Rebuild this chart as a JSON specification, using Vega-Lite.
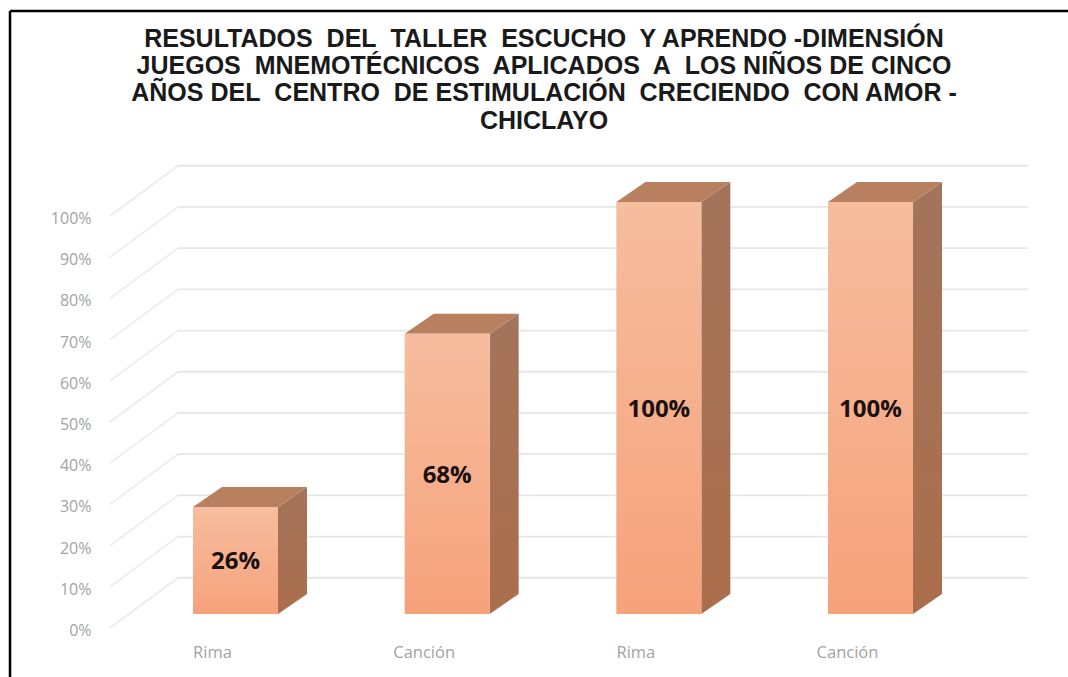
{
"$schema":"https://vega.github.io/schema/vega-lite/v6.json",
"autosize":{"type":"none"},
"padding":{"left":10,"top":11,"right":0,"bottom":0},
"width":1058,"height":666,
"background":"#ffffff",
"config":{"view":{"stroke":null},"font":"Open Sans"},
"title":{"text":["RESULTADOS\u00a0 DEL\u00a0 TALLER\u00a0 ESCUCHO\u00a0 Y APRENDO -DIMENSIÓN","JUEGOS\u00a0 MNEMOTÉCNICOS\u00a0 APLICADOS\u00a0 A\u00a0 LOS NIÑOS DE CINCO","AÑOS DEL\u00a0 CENTRO\u00a0 DE ESTIMULACIÓN\u00a0 CRECIENDO\u00a0 CON AMOR -","CHICLAYO"],"anchor":"middle","frame":"group","font":"Liberation Sans","fontWeight":"bold","fontSize":25,"lineHeight":27.3,"color":"#1a1a1a","dx":5,"dy":148,"baseline":"alphabetic"},
"datasets":{
"barras":[{"n":1,"categoria":"Rima","valor":26},{"n":2,"categoria":"Canción","valor":68},{"n":3,"categoria":"Rima","valor":100},{"n":4,"categoria":"Canción","valor":100}],
"rejilla":[{"valor":0},{"valor":10},{"valor":20},{"valor":30},{"valor":40},{"valor":50},{"valor":60},{"valor":70},{"valor":80},{"valor":90},{"valor":100}],
"marco":[{"lado":"izquierdo","x":-0.0653,"x2":-0.0653,"y":-11.89,"y2":149.76},{"lado":"superior","x":-0.0653,"x2":4.933,"y":149.76,"y2":149.76}]
},
"encoding":{
"x":{"field":"x","type":"quantitative","title":null,"scale":{"domain":[-0.0653,4.933],"nice":false,"zero":false},
"axis":{"values":[1,2,3,4],"labelExpr":"datum.value==1||datum.value==3?'Rima':'Canción'","offset":-34,"ticks":false,"domain":false,"grid":false,"labelOffset":-23.5,"labelPadding":1,"labelColor":"#a3a3a3","labelFontSize":16.5,"labelFont":"Open Sans","labelBound":false,"labelFlush":false,"labelOverlap":false}},
"y":{"field":"y","type":"quantitative","title":null,"scale":{"domain":[-11.89,149.76],"nice":false,"zero":false},
"axis":{"values":[0,10,20,30,40,50,60,70,80,90,100],"labelExpr":"datum.value+'%'","offset":-83,"ticks":false,"domain":false,"grid":false,"labelOffset":2.5,"labelPadding":2,"labelColor":"#a3a3a3","labelFontSize":16,"labelFont":"Open Sans","labelBound":false,"labelFlush":false,"labelOverlap":false}}
},
"layer":[
{"data":{"name":"rejilla"},"transform":[{"calculate":"0.4071","as":"x"},{"calculate":"0.7284","as":"x2"},{"calculate":"datum.valor","as":"y"},{"calculate":"datum.valor+12.2","as":"y2"}],
"mark":{"type":"rule","stroke":"#ebebeb","strokeWidth":1.6},
"encoding":{"x2":{"field":"x2"},"y2":{"field":"y2"}}},
{"data":{"name":"rejilla"},"transform":[{"calculate":"0.7284","as":"x"},{"calculate":"4.744","as":"x2"},{"calculate":"datum.valor+12.2","as":"y"}],
"mark":{"type":"rule","stroke":"#e6e6e6","strokeWidth":1.8},
"encoding":{"x2":{"field":"x2"}}},
{"data":{"name":"barras"},"transform":[{"calculate":"[0,1]","as":"t"},{"flatten":["t"]},{"calculate":"datum.n+0.2008+0.137*datum.t","as":"x"},{"calculate":"3.4+4.85*datum.t","as":"y"},{"calculate":"datum.valor+3.4+4.85*datum.t","as":"y2"}],
"mark":{"type":"area","color":{"gradient":"linear","x1":0,"y1":0,"x2":0,"y2":1,"stops":[{"offset":0,"color":"#a3745b"},{"offset":1,"color":"#ab6e4c"}]}},
"encoding":{"y2":{"field":"y2"},"detail":{"field":"n"}}},
{"data":{"name":"barras"},"transform":[{"calculate":"[0,1]","as":"t"},{"flatten":["t"]},{"calculate":"datum.n-0.2008+0.137*datum.t","as":"x"},{"calculate":"datum.n+0.2008+0.137*datum.t","as":"x2"},{"calculate":"datum.valor+3.4+4.85*datum.t","as":"y"}],
"mark":{"type":"area","orient":"horizontal","color":"#b9805f"},
"encoding":{"x2":{"field":"x2"},"detail":{"field":"n"}}},
{"data":{"name":"barras"},"transform":[{"calculate":"datum.n-0.2008","as":"x"},{"calculate":"datum.n+0.2008","as":"x2"},{"calculate":"3.4","as":"y"},{"calculate":"datum.valor+3.4","as":"y2"}],
"mark":{"type":"rect","color":{"gradient":"linear","x1":0,"y1":0,"x2":0,"y2":1,"stops":[{"offset":0,"color":"#f6bd9f"},{"offset":1,"color":"#f6a27a"}]}},
"encoding":{"x2":{"field":"x2"},"y2":{"field":"y2"}}},
{"data":{"name":"barras"},"transform":[{"calculate":"datum.n","as":"x"},{"calculate":"datum.valor/2+3.4","as":"y"},{"calculate":"datum.valor+'%'","as":"etiqueta"}],
"mark":{"type":"text","font":"Open Sans","fontWeight":"bold","fontSize":24,"color":"#1a1010","baseline":"middle","align":"center","dy":2},
"encoding":{"text":{"field":"etiqueta"}}},
{"data":{"name":"marco"},
"mark":{"type":"rule","stroke":"#000000","strokeWidth":2.5,"clip":false},
"encoding":{"x2":{"field":"x2"},"y2":{"field":"y2"}}}
]
}
